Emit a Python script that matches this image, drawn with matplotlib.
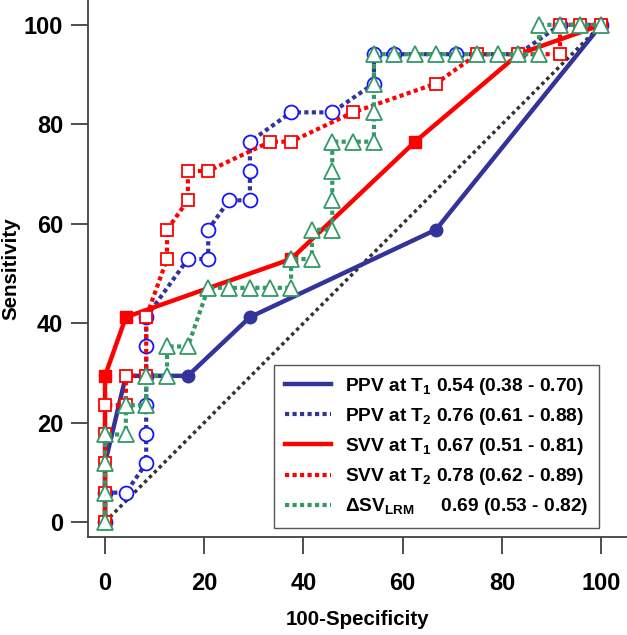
import matplotlib
matplotlib.use('Agg')
import matplotlib.pyplot as plt

plt.rcParams['font.family'] = ['Liberation Sans', 'DejaVu Sans']
plt.rcParams['font.weight'] = 'bold'
plt.rcParams['mathtext.fontset'] = 'custom'
plt.rcParams['mathtext.rm'] = 'Liberation Sans:bold'
plt.rcParams['mathtext.it'] = 'Liberation Sans:bold'
plt.rcParams['mathtext.bf'] = 'Liberation Sans:bold'

# ROC points (100-specificity, sensitivity)
ppv1_x = [0, 0, 4.2, 16.7, 29.2, 66.7, 100]
ppv1_y = [0, 11.8, 29.4, 29.4, 41.2, 58.8, 100]

ppv2_x = [0, 0, 4.2, 8.3, 8.3, 8.3, 8.3, 8.3, 8.3, 16.7, 20.8, 20.8, 25, 29.2, 29.2, 29.2,
          37.5, 45.8, 54.2, 54.2, 58.3, 70.8, 83.3, 91.7, 100]
ppv2_y = [0, 5.9, 5.9, 11.8, 17.6, 23.5, 29.4, 35.3, 41.2, 52.9, 52.9, 58.8, 64.7, 64.7, 70.6, 76.5,
          82.4, 82.4, 88.2, 94.1, 94.1, 94.1, 94.1, 100, 100]

svv1_x = [0, 0, 4.2, 37.5, 62.5, 83.3, 100]
svv1_y = [0, 29.4, 41.2, 52.9, 76.5, 94.1, 100]

svv2_x = [0, 0, 0, 0, 0, 4.2, 4.2, 8.3, 8.3, 12.5, 12.5, 16.7, 16.7, 20.8, 33.3, 37.5,
          50, 66.7, 75, 83.3, 91.7, 91.7, 95.8, 100]
svv2_y = [0, 5.9, 11.8, 17.6, 23.5, 23.5, 29.4, 29.4, 41.2, 52.9, 58.8, 64.7, 70.6, 70.6, 76.5, 76.5,
          82.4, 88.2, 94.1, 94.1, 94.1, 100, 100, 100]

dsv_x = [0, 0, 0, 0, 4.2, 4.2, 8.3, 8.3, 12.5, 12.5, 16.7, 20.8, 25, 29.2, 33.3, 37.5, 37.5,
         41.7, 41.7, 45.8, 45.8, 45.8, 45.8, 50, 54.2, 54.2, 54.2, 54.2, 58.3, 62.5, 66.7,
         70.8, 75, 79.2, 83.3, 87.5, 87.5, 91.7, 95.8, 100]
dsv_y = [0, 5.9, 11.8, 17.6, 17.6, 23.5, 23.5, 29.4, 29.4, 35.3, 35.3, 47.1, 47.1, 47.1, 47.1, 47.1, 52.9,
         52.9, 58.8, 58.8, 64.7, 70.6, 76.5, 76.5, 76.5, 82.4, 88.2, 94.1, 94.1, 94.1, 94.1,
         94.1, 94.1, 94.1, 94.1, 94.1, 100, 100, 100, 100]

labels = [r'PPV at T$_1$ 0.54 (0.38 - 0.70)',
          r'PPV at T$_2$ 0.76 (0.61 - 0.88)',
          r'SVV at T$_1$ 0.67 (0.51 - 0.81)',
          r'SVV at T$_2$ 0.78 (0.62 - 0.89)',
          r'ΔSV$_{LRM}$     0.69 (0.53 - 0.82)']

navy = '#333399'
blue = '#1515ff'
red = '#ff0000'
green = '#339966'
dots = (0, (1, 0.8))

fig = plt.figure(figsize=(6.27, 6.35), dpi=100)
ax = fig.add_axes([88 / 627, 98 / 635, 539 / 627, 537 / 635])

ax.plot([0, 100], [0, 100], color='#333333', lw=2.5, ls=(0, (1, 1)), zorder=1)

ax.plot(ppv1_x, ppv1_y, color=navy, lw=3.2, marker='o', ms=9, mfc=navy, mec=navy,
        markevery=[3, 4, 5], label=labels[0], zorder=2)
ax.plot(ppv2_x, ppv2_y, color=navy, lw=3, ls=dots, marker='o', ms=10, mfc='white', mec=blue,
        mew=1.3, label=labels[1], zorder=3)
ax.plot(svv1_x, svv1_y, color=red, lw=3.2, marker='s', ms=9, mfc=red, mec=red,
        label=labels[2], zorder=4)
ax.plot(svv2_x, svv2_y, color=red, lw=3, ls=dots, marker='s', ms=9, mfc='white', mec=red,
        mew=1.3, label=labels[3], zorder=5)
ax.plot(dsv_x, dsv_y, color=green, lw=3, ls=dots, marker='^', ms=12, mfc='white', mec=green,
        mew=1.3, label=labels[4], zorder=6)

ax.set_xlim(-3.43, 105.2)
ax.set_ylim(-3.02, 105.0)
ax.set_xticks([0, 20, 40, 60, 80, 100])
ax.set_yticks([0, 20, 40, 60, 80, 100])
ax.spines['top'].set_visible(False)
ax.spines['right'].set_visible(False)
for s in ['left', 'bottom']:
    ax.spines[s].set_color('#404040')
    ax.spines[s].set_linewidth(1.3)
ax.tick_params(axis='both', direction='out', length=12, width=1.3, color='#404040',
               labelsize=17)
ax.tick_params(axis='x', pad=13)
ax.tick_params(axis='y', pad=6)
for t in ax.get_xticklabels() + ax.get_yticklabels():
    t.set_fontweight('bold')

ax.set_xlabel('100-Specificity', fontsize=14.8, fontweight='bold', labelpad=11)
ax.set_ylabel('Sensitivity', fontsize=14.8, fontweight='bold', labelpad=2)

leg = ax.legend(loc='lower right', bbox_to_anchor=(0.948, 0.0168), borderaxespad=0,
                prop={'size': 13.8, 'weight': 'bold'}, handlelength=2.4, handletextpad=0.75,
                labelspacing=0.48, borderpad=0.55, fancybox=False, framealpha=1)
leg.get_frame().set_edgecolor('#555555')
leg.get_frame().set_linewidth(1.0)
for h in leg.get_lines():
    h.set_marker('')

fig.savefig('out.png', dpi=100)
